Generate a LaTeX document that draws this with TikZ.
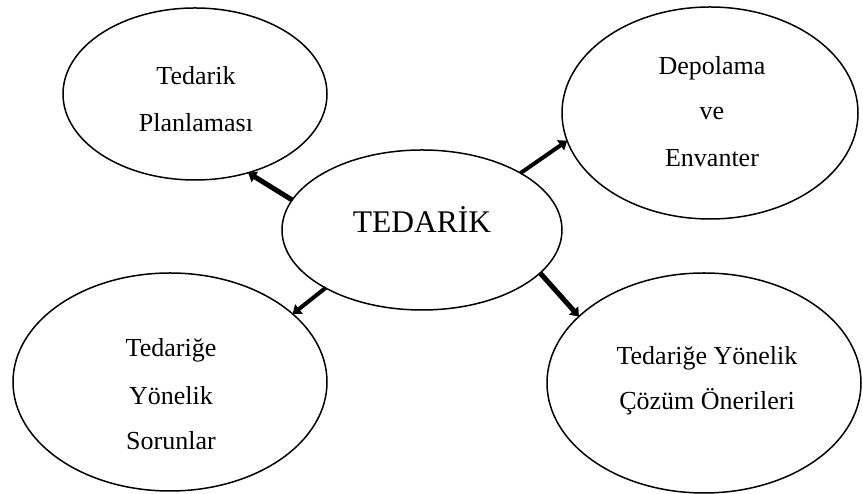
\documentclass[tikz,border=0pt]{standalone}
\usepackage{fontspec}
\setmainfont{Liberation Serif}
\usetikzlibrary{arrows.meta,shapes.geometric}

\tikzset{
  bubble/.style={ellipse, draw=black, line width=1.5pt, inner sep=0pt, outer sep=0pt},
  lbl/.style={anchor=base, inner sep=0pt, font=\fontsize{26}{30}\selectfont},
  hub/.style={anchor=base, inner sep=0pt, font=\fontsize{31.5}{36}\selectfont},
  link/.style={line width=5pt, -{Triangle[length=8pt,width=12pt]}, shorten >=0pt, shorten <=0pt},
  thinlink/.style={link, line width=4pt}
}

\begin{document}
\begin{tikzpicture}[x=1pt,y=1pt]
  \useasboundingbox (0,0) rectangle (863,494);

  % ellipses
  \node[bubble, minimum width=280pt, minimum height=160pt] (c)  at (422,264) {};
  \node[bubble, minimum width=264pt, minimum height=172pt] (tl) at (195,400) {};
  \node[bubble, minimum width=296pt, minimum height=212pt] (tr) at (710,381) {};
  \node[bubble, minimum width=314pt, minimum height=218pt] (bl) at (170,112) {};
  \node[bubble, minimum width=314pt, minimum height=220pt] (br) at (704,111) {};

  % labels
  \node[hub] (ct)  at (422,261) {TEDARİK};
  \node[lbl] (tl1) at (196,409) {Tedarik};
  \node[lbl] (tl2) at (196,362) {Planlaması};
  \node[lbl] (tr1) at (712,419) {Depolama};
  \node[lbl] (tr2) at (712,374) {ve};
  \node[lbl] (tr3) at (712,327) {Envanter};
  \node[lbl] (bl1) at (171,137) {Tedariğe};
  \node[lbl] (bl2) at (171,89)  {Yönelik};
  \node[lbl] (bl3) at (171,44)  {Sorunlar};
  \node[lbl] (br1) at (707,129) {Tedariğe Yönelik};
  \node[lbl] (br2) at (707,84)  {Çözüm Önerileri};

  % arrows from the hub
  \draw[link]     (c.167) -- (tl.304);
  \draw[thinlink] (c.30)  -- (tr.191);
  \draw[thinlink] (c.211) -- (bl.29);
  \draw[link]     (c.340) -- (br.152);
\end{tikzpicture}
\end{document}
